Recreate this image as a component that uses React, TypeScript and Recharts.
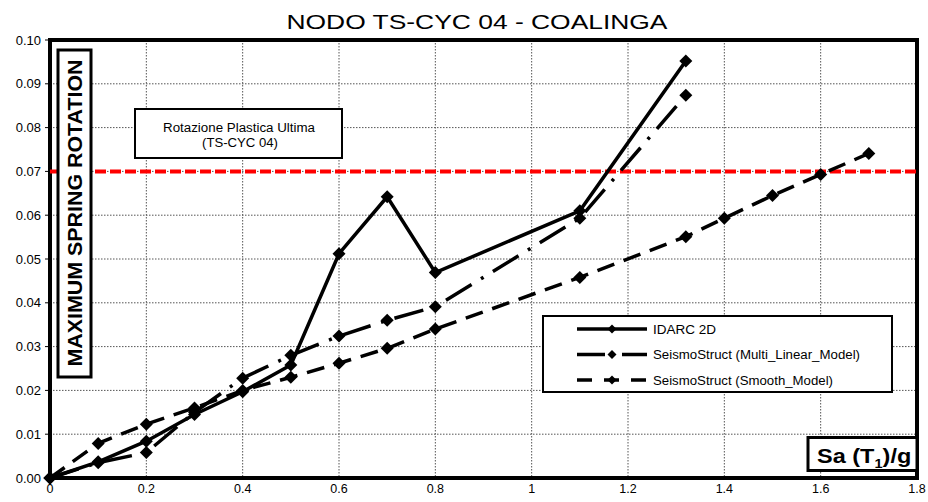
import { LineChart, Line, XAxis, YAxis, CartesianGrid, ReferenceLine, ReferenceArea } from 'recharts';

// Sa(T1)/g steps of the incremental dynamic analysis
const SA_STEPS = [0, 0.1, 0.2, 0.3, 0.4, 0.5, 0.6, 0.7, 0.8, 1.1, 1.32];
const IDARC_2D = [0, 0.0037, 0.0084, 0.0145, 0.0197, 0.0258, 0.0512, 0.0642, 0.0469, 0.061, 0.0952];
const MULTI_LINEAR = [0, 0.0035, 0.0058, 0.015, 0.0228, 0.028, 0.0324, 0.036, 0.0391, 0.0593, 0.0874];

const SMOOTH_STEPS = [0, 0.1, 0.2, 0.3, 0.4, 0.5, 0.6, 0.7, 0.8, 1.1, 1.32, 1.4, 1.5, 1.6, 1.7];
const SMOOTH_MODEL = [0, 0.0079, 0.0123, 0.016, 0.02, 0.023, 0.0262, 0.0296, 0.034, 0.0458, 0.0551, 0.0593, 0.0645, 0.0693, 0.0741];

const X_TICKS = [0, 0.2, 0.4, 0.6, 0.8, 1, 1.2, 1.4, 1.6, 1.8];
const Y_TICKS = [0, 0.01, 0.02, 0.03, 0.04, 0.05, 0.06, 0.07, 0.08, 0.09, 0.1];

const ULTIMATE_ROTATION = 0.07;

const FONT = '"Liberation Sans", Arial, Helvetica, sans-serif';

const toPoints = (xs: number[], ys: number[]) => xs.map((x, i) => ({ x, y: ys[i] }));

const series = [
  { name: 'IDARC 2D', data: toPoints(SA_STEPS, IDARC_2D), dash: undefined as string | undefined },
  { name: 'SeismoStruct (Multi_Linear_Model)', data: toPoints(SA_STEPS, MULTI_LINEAR), dash: '30 11 3 11' },
  { name: 'SeismoStruct (Smooth_Model)', data: toPoints(SMOOTH_STEPS, SMOOTH_MODEL), dash: '18 10' },
];

const legendDash = [undefined, '28 6 3 8', '15 12'];
const legendTextLen = [63, 207, 180];

const Diamond = ({ cx, cy, r }: { cx: number; cy: number; r: number }) => (
  <path d={`M${cx},${cy - r}L${cx + r},${cy}L${cx},${cy + r}L${cx - r},${cy}Z`} fill="#000" />
);

export default function App() {
  return (
    <div style={{ position: 'absolute', left: 0, top: 0, width: 928, height: 502, background: '#fff', fontFamily: FONT }}>
      <LineChart
        width={928}
        height={502}
        margin={{ top: 40, right: 11, bottom: 0, left: 0 }}
        style={{ position: 'absolute', left: 0, top: 0 }}
      >
        <CartesianGrid stroke="#555" strokeDasharray="1.5 1.5" strokeWidth={1} />
        <XAxis
          type="number"
          dataKey="x"
          domain={[0, 1.8]}
          ticks={X_TICKS}
          height={24}
          tickFormatter={(v: number) => String(Number(v.toFixed(1)))}
          axisLine={false}
          tickLine={false}
          tickSize={3}
          tickMargin={3}
          interval={0}
          tick={{ fontSize: 12.5, fill: '#000', fontFamily: FONT }}
        />
        <YAxis
          type="number"
          dataKey="y"
          domain={[0, 0.1]}
          ticks={Y_TICKS}
          width={50}
          tickFormatter={(v: number) => v.toFixed(2)}
          axisLine={false}
          tickLine={{ stroke: '#000' }}
          tickSize={5}
          tickMargin={4}
          interval={0}
          tick={{ fontSize: 13, fill: '#000', fontFamily: FONT }}
        />
        <ReferenceLine y={ULTIMATE_ROTATION} stroke="#ff0000" strokeWidth={4} strokeDasharray="11 4" />
        {series.map((s) => (
          <Line
            key={s.name}
            data={s.data}
            dataKey="y"
            name={s.name}
            type="linear"
            stroke="#000"
            strokeWidth={3.5}
            strokeDasharray={s.dash}
            isAnimationActive={false}
            activeDot={false}
            dot={(p: any) => <Diamond key={`${s.name}-${p.index}`} cx={p.cx} cy={p.cy} r={6.5} />}
          />
        ))}
        <ReferenceArea x1={0} x2={1.8} y1={0} y2={0.1} fill="none" stroke="#000" strokeWidth={4} ifOverflow="visible" />
      </LineChart>

      <svg width={928} height={502} style={{ position: 'absolute', left: 0, top: 0, pointerEvents: 'none' }}>
        <text x={477} y={29} fontSize={21} textAnchor="middle" textLength={381} lengthAdjust="spacingAndGlyphs" fill="#000" fontFamily={FONT}>
          NODO TS-CYC 04 - COALINGA
        </text>

        {/* y axis title box */}
        <rect x={58} y={50} width={33} height={327} fill="#fff" stroke="#000" strokeWidth={3} />
        <text
          transform="translate(82,213) rotate(-90)"
          x={0}
          y={0}
          fontSize={21}
          fontWeight="bold"
          textAnchor="middle"
          textLength={307}
          lengthAdjust="spacingAndGlyphs"
          fill="#000"
          fontFamily={FONT}
        >
          MAXIMUM SPRING ROTATION
        </text>

        {/* ultimate plastic rotation note */}
        <rect x={135} y={109} width={207} height={49} fill="#fff" stroke="#000" strokeWidth={2} />
        <text x={239} y={132} fontSize={12} textAnchor="middle" textLength={152} lengthAdjust="spacingAndGlyphs" fill="#000" fontFamily={FONT}>
          Rotazione Plastica Ultima
        </text>
        <text x={240} y={146.5} fontSize={12} textAnchor="middle" textLength={76} lengthAdjust="spacingAndGlyphs" fill="#000" fontFamily={FONT}>
          (TS-CYC 04)
        </text>

        {/* legend */}
        <rect x={543} y={316} width={349} height={76} fill="#fff" stroke="#000" strokeWidth={2} />
        {series.map((s, i) => {
          const cy = 329 + i * 25.5;
          return (
            <g key={s.name}>
              <line x1={577} y1={cy} x2={647} y2={cy} stroke="#000" strokeWidth={3.5} strokeDasharray={legendDash[i]} />
              <Diamond cx={612} cy={cy} r={4.5} />
              <text x={653} y={cy + 4.5} fontSize={12} textLength={legendTextLen[i]} lengthAdjust="spacingAndGlyphs" fill="#000" fontFamily={FONT}>
                {s.name}
              </text>
            </g>
          );
        })}

        {/* x axis title box */}
        <rect x={808} y={437.5} width={109} height={33} fill="#fff" stroke="#000" strokeWidth={3} />
        <g transform="translate(817,463) scale(1.12,1)">
          <text x={0} y={0} fontSize={21} fontWeight="bold" fill="#000" fontFamily={FONT}>
            Sa (T
            <tspan fontSize={13} dy={5}>1</tspan>
            <tspan dy={-5}>)/g</tspan>
          </text>
        </g>
      </svg>
    </div>
  );
}
